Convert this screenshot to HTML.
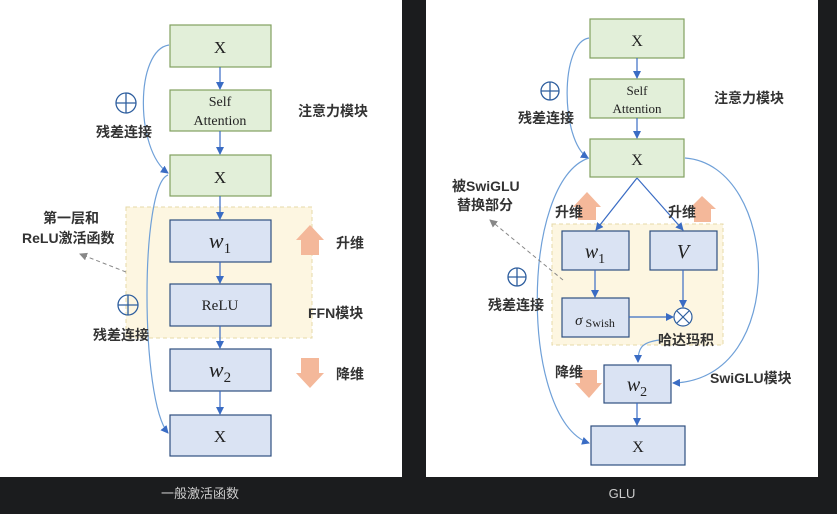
<!DOCTYPE html>
<html><head><meta charset="utf-8"><style>
html,body{margin:0;padding:0;background:#1b1c1e;}
svg{display:block}
text{font-family:"Liberation Serif","Noto Serif CJK SC",serif;fill:#222}
.cn{font-family:"Liberation Sans","Noto Sans CJK SC",sans-serif;font-weight:bold;font-size:14px;fill:#333}
.cap{font-family:"Liberation Sans","Noto Sans CJK SC",sans-serif;font-size:13px;fill:#ccc}
</style></head><body>
<svg width="837" height="514" viewBox="0 0 837 514" xmlns="http://www.w3.org/2000/svg">
<defs>
<marker id="a" markerWidth="8" markerHeight="8" refX="7" refY="4" orient="auto" markerUnits="userSpaceOnUse"><path d="M0,0 L8,4 L0,8 z" fill="#3a6cc4"/></marker>
<marker id="g" markerWidth="8" markerHeight="8" refX="7" refY="4" orient="auto" markerUnits="userSpaceOnUse"><path d="M0,0 L8,4 L0,8 z" fill="#888"/></marker>
</defs>
<rect x="0" y="0" width="402" height="477" fill="#fff"/>
<rect x="426" y="0" width="392" height="477" fill="#fff"/>

<!-- LEFT -->
<rect x="126" y="207" width="186" height="131" fill="#fdf6e1" stroke="#e6d9a8" stroke-dasharray="4,3"/>
<g stroke="#82a060" stroke-width="1.2" fill="#e2efd9">
<rect x="170" y="25" width="101" height="42"/><rect x="170" y="90" width="101" height="41"/><rect x="170" y="155" width="101" height="41"/>
</g>
<g stroke="#2f4f80" stroke-width="1.2" fill="#dae3f3">
<rect x="170" y="220" width="101" height="42"/><rect x="170" y="284" width="101" height="42"/><rect x="170" y="349" width="101" height="42"/><rect x="170" y="415" width="101" height="41"/>
</g>
<g stroke="#3a6cc4" stroke-width="1.2" marker-end="url(#a)">
<line x1="220" y1="67" x2="220" y2="89"/><line x1="220" y1="131" x2="220" y2="154"/><line x1="220" y1="196" x2="220" y2="219"/><line x1="220" y1="262" x2="220" y2="283"/><line x1="220" y1="326" x2="220" y2="348"/><line x1="220" y1="391" x2="220" y2="414"/>
</g>
<g fill="none" stroke="#6fa0d8" stroke-width="1.2" marker-end="url(#a)">
<path d="M169,45 C135,50 135,150 168,173"/>
<path d="M168,175 C140,185 140,400 168,433"/>
</g>
<text x="220" y="53" font-size="17" text-anchor="middle">X</text>
<text x="220" y="106" font-size="14" text-anchor="middle">Self</text>
<text x="220" y="125" font-size="14" text-anchor="middle">Attention</text>
<text x="220" y="183" font-size="17" text-anchor="middle">X</text>
<text x="220" y="248" font-size="22" text-anchor="middle" font-style="italic">w<tspan font-size="15" font-style="normal" dy="5">1</tspan></text>
<text x="220" y="310" font-size="15" text-anchor="middle">ReLU</text>
<text x="220" y="377" font-size="22" text-anchor="middle" font-style="italic">w<tspan font-size="15" font-style="normal" dy="5">2</tspan></text>
<text x="220" y="442" font-size="17" text-anchor="middle">X</text>
<g stroke="#2f5f9f" stroke-width="1.3" fill="none"><circle cx="126" cy="103" r="10"/><line x1="116" y1="103" x2="136" y2="103"/><line x1="126" y1="93" x2="126" y2="113"/>
<circle cx="128" cy="305" r="10"/><line x1="118" y1="305" x2="138" y2="305"/><line x1="128" y1="295" x2="128" y2="315"/></g>
<text class="cn" x="96" y="137">残差连接</text>
<text class="cn" x="93" y="340">残差连接</text>
<text class="cn" x="298" y="116">注意力模块</text>
<text class="cn" x="43" y="223">第一层和</text>
<text class="cn" x="22" y="243">ReLU激活函数</text>
<line x1="126" y1="272" x2="80" y2="254" stroke="#888" stroke-dasharray="4,3" marker-end="url(#g)"/>
<path d="M301,255 L301,240 L296,240 L310,225 L324,240 L319,240 L319,255 z" fill="#f4b89a"/>
<text class="cn" x="336" y="248">升维</text>
<text class="cn" x="308" y="318">FFN模块</text>
<path d="M301,358 L319,358 L319,373 L324,373 L310,388 L296,373 L301,373 z" fill="#f4b89a"/>
<text class="cn" x="336" y="379">降维</text>
<text class="cap" x="200" y="498" text-anchor="middle">一般激活函数</text>

<!-- RIGHT -->
<rect x="552" y="224" width="171" height="121" fill="#fdf6e1" stroke="#e6d9a8" stroke-dasharray="4,3"/>
<g stroke="#82a060" stroke-width="1.2" fill="#e2efd9">
<rect x="590" y="19" width="94" height="39"/><rect x="590" y="79" width="94" height="39"/><rect x="590" y="139" width="94" height="38"/>
</g>
<g stroke="#2f4f80" stroke-width="1.2" fill="#dae3f3">
<rect x="562" y="231" width="67" height="39"/><rect x="650" y="231" width="67" height="39"/><rect x="562" y="298" width="67" height="39"/><rect x="604" y="365" width="67" height="38"/><rect x="591" y="426" width="94" height="39"/>
</g>
<path d="M578,220 L578,207 L573,207 L587,192 L601,207 L596,207 L596,220 z" fill="#f4b89a"/>
<path d="M694,222 L694,209 L689,209 L702,196 L716,209 L711,209 L711,222 z" fill="#f4b89a"/>
<path d="M580,370 L597,370 L597,383 L602,383 L589,398 L575,383 L580,383 z" fill="#f4b89a"/>
<g stroke="#3a6cc4" stroke-width="1.2" marker-end="url(#a)">
<line x1="637" y1="58" x2="637" y2="78"/><line x1="637" y1="118" x2="637" y2="138"/>
<line x1="637" y1="178" x2="596" y2="230"/><line x1="637" y1="178" x2="683" y2="230"/>
<line x1="595" y1="270" x2="595" y2="297"/><line x1="683" y1="270" x2="683" y2="307"/>
<line x1="629" y1="317" x2="673" y2="317"/><line x1="637" y1="403" x2="637" y2="425"/>
</g>
<g fill="none" stroke="#6fa0d8" stroke-width="1.2" marker-end="url(#a)">
<path d="M589,38 C560,42 560,140 588,158"/>
<path d="M589,158 C520,180 520,420 589,443"/>
<path d="M685,158 C780,165 790,380 673,383"/>
<path d="M660,340 C640,342 638,350 638,362"/>
</g>
<g stroke="#2f5f9f" stroke-width="1.2" fill="#fff"><circle cx="683" cy="317" r="9"/></g>
<g stroke="#2f5f9f" stroke-width="1.2"><line x1="677" y1="311" x2="689" y2="323"/><line x1="689" y1="311" x2="677" y2="323"/></g>
<text x="637" y="46" font-size="16" text-anchor="middle">X</text>
<text x="637" y="95" font-size="13" text-anchor="middle">Self</text>
<text x="637" y="113" font-size="13" text-anchor="middle">Attention</text>
<text x="637" y="165" font-size="16" text-anchor="middle">X</text>
<text x="595" y="258" font-size="20" text-anchor="middle" font-style="italic">w<tspan font-size="14" font-style="normal" dy="5">1</tspan></text>
<text x="683" y="258" font-size="20" text-anchor="middle" font-style="italic">V</text>
<text x="595" y="325" font-size="15" text-anchor="middle" font-style="italic">σ<tspan font-size="12" font-style="normal" dy="2"> Swish</tspan></text>
<text x="637" y="391" font-size="20" text-anchor="middle" font-style="italic">w<tspan font-size="14" font-style="normal" dy="5">2</tspan></text>
<text x="638" y="452" font-size="16" text-anchor="middle">X</text>
<g stroke="#2f5f9f" stroke-width="1.3" fill="none"><circle cx="550" cy="91" r="9"/><line x1="541" y1="91" x2="559" y2="91"/><line x1="550" y1="82" x2="550" y2="100"/>
<circle cx="517" cy="277" r="9"/><line x1="508" y1="277" x2="526" y2="277"/><line x1="517" y1="268" x2="517" y2="286"/></g>
<text class="cn" x="518" y="123">残差连接</text>
<text class="cn" x="488" y="310">残差连接</text>
<text class="cn" x="714" y="103">注意力模块</text>
<text class="cn" x="452" y="191">被SwiGLU</text>
<text class="cn" x="457" y="210">替换部分</text>
<line x1="563" y1="280" x2="490" y2="220" stroke="#888" stroke-dasharray="4,3" marker-end="url(#g)"/>
<text class="cn" x="555" y="217">升维</text>
<text class="cn" x="668" y="217">升维</text>
<text class="cn" x="658" y="345">哈达玛积</text>
<text class="cn" x="555" y="377">降维</text>
<text class="cn" x="710" y="383">SwiGLU模块</text>
<text class="cap" x="622" y="498" text-anchor="middle">GLU</text>
</svg>
</body></html>
